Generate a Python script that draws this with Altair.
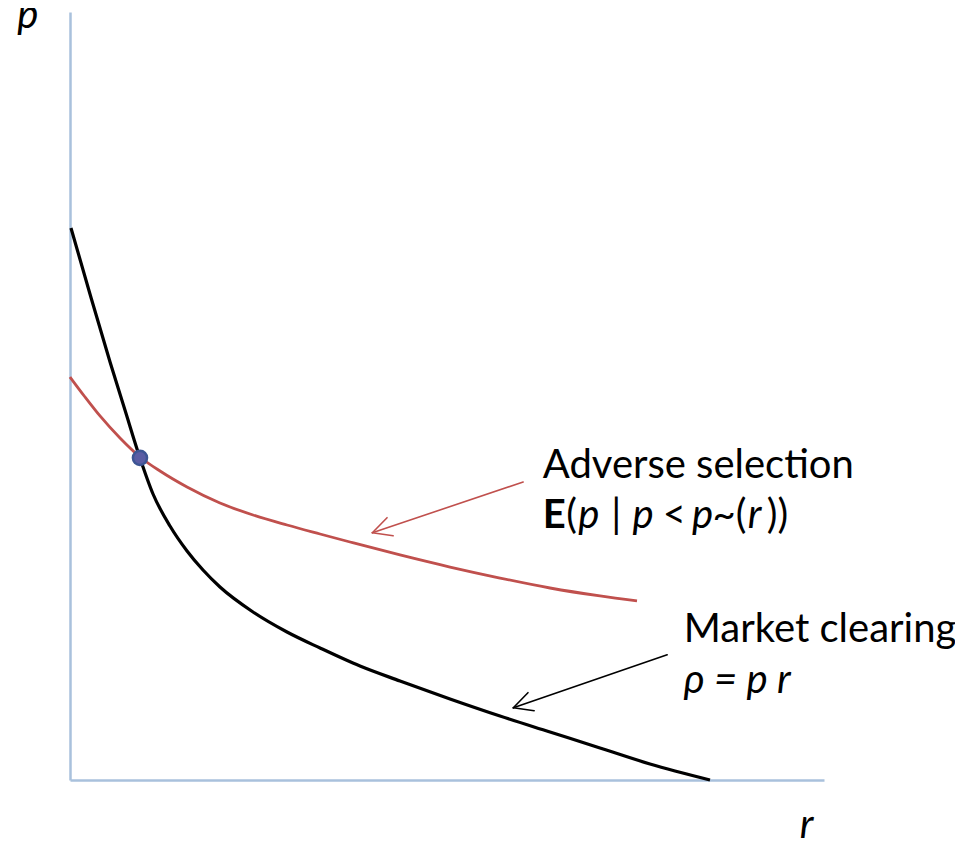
import math
import altair as alt
import pandas as pd

# ---- data (r, p in chart units) ----
black_r = [0.013, 0.265, 0.531, 0.729, 0.928, 1.101, 1.326, 1.552, 1.764, 1.989,
           2.427, 2.878, 3.316, 3.846, 4.377, 5.040, 5.703, 6.366, 7.029, 7.692, 8.488]
black_p = [7.188, 6.328, 5.443, 4.818, 4.193, 3.724, 3.307, 2.982, 2.734, 2.513,
           2.188, 1.927, 1.719, 1.484, 1.289, 1.055, 0.833, 0.625, 0.417, 0.208, 0.0]

red_r = [0.0, 0.199, 0.398, 0.663, 0.928, 1.194, 1.552, 1.989, 2.427, 2.878, 3.316,
         3.714, 4.377, 5.040, 5.703, 6.366, 7.029, 7.520]
red_p = [5.247, 4.987, 4.740, 4.453, 4.206, 4.023, 3.815, 3.607, 3.451, 3.320, 3.203,
         3.099, 2.930, 2.773, 2.630, 2.500, 2.396, 2.331]

eq_r = [0.928]
eq_p = [4.195]

# arrows: start (r, p) -> tip (r, p)
arrow_names = ["adverse", "market"]
arrow_r0 = [6.01, 7.92]
arrow_p0 = [3.88, 1.63]
arrow_r1 = [4.01, 5.88]
arrow_p1 = [3.22, 0.94]
arrow_colors = ["#c0504d", "#000000"]

# ---- layout constants ----
W, H = 754, 768
R_MAX, P_MAX = 10.0, 10.0
SX, SY = W / R_MAX, H / P_MAX
FONT = "Lato"
FS = 40

x_enc = alt.X("r:Q", scale=alt.Scale(domain=[0, R_MAX], nice=False, zero=False),
              axis=alt.Axis(labels=False, ticks=False, grid=False, title=None,
                            domainColor="#a9c1dc", domainWidth=2.5))
y_enc = alt.Y("p:Q", scale=alt.Scale(domain=[0, P_MAX], nice=False, zero=False),
              axis=alt.Axis(labels=False, ticks=False, grid=False, title=None,
                            domainColor="#a9c1dc", domainWidth=2.5))

black_df = pd.DataFrame({"r": black_r, "p": black_p})
red_df = pd.DataFrame({"r": red_r, "p": red_p})
eq_df = pd.DataFrame({"r": eq_r, "p": eq_p})

black = alt.Chart(black_df).mark_line(color="#000000", strokeWidth=3.2,
                                      interpolate="monotone").encode(x=x_enc, y=y_enc)
red = alt.Chart(red_df).mark_line(color="#c0504d", strokeWidth=2.8,
                                  interpolate="monotone").encode(x=x_enc, y=y_enc)
dot = alt.Chart(eq_df).mark_point(filled=True, size=200, color="#5a5ca4",
                                  stroke="#3d5594", strokeWidth=2.5,
                                  opacity=1).encode(x=x_enc, y=y_enc)

# arrow segments (shaft + two wings)
segs = []
for name, r0, p0, r1, p1, col in zip(arrow_names, arrow_r0, arrow_p0, arrow_r1,
                                     arrow_p1, arrow_colors):
    segs.append({"r": r0, "p": p0, "r2": r1, "p2": p1, "c": col})
    dx = (r0 - r1) * SX
    dy = -(p0 - p1) * SY
    n = math.hypot(dx, dy)
    ux, uy = dx / n, dy / n
    for ang in (27, -27):
        a = math.radians(ang)
        wx = (ux * math.cos(a) - uy * math.sin(a)) * 21
        wy = (ux * math.sin(a) + uy * math.cos(a)) * 21
        segs.append({"r": r1, "p": p1, "r2": r1 + wx / SX, "p2": p1 - wy / SY, "c": col})
seg_df = pd.DataFrame(segs)
arrows = alt.Chart(seg_df).mark_rule(strokeWidth=1.6, strokeCap="round").encode(
    x=x_enc, y=y_enc, x2="r2:Q", y2="p2:Q",
    color=alt.Color("c:N", scale=None))

# text annotations
normal_txt = pd.DataFrame({
    "r": [6.27, 8.14],
    "p": [3.93, 1.80],
    "t": ["Adverse selection", "Market clearing"],
})
eq_seg_text = ["E", "(", "p", "|", "p", "<", "p", "~", "(", "r", "))"]
eq_seg_r = [6.27, 6.58, 6.74, 7.18, 7.46, 7.86, 8.25, 8.52, 8.83, 8.99, 9.24]
eq_seg_style = ["bold", "normal", "italic", "normal", "italic", "normal", "italic",
                "normal", "normal", "italic", "normal"]
eq_line_p = 3.28

seg_tab = pd.DataFrame({"r": eq_seg_r, "p": [eq_line_p] * len(eq_seg_r),
                        "t": eq_seg_text, "s": eq_seg_style})

italic_txt = pd.concat([
    seg_tab[seg_tab.s == "italic"][["r", "p", "t"]],
    pd.DataFrame({"r": [8.14, -0.70, 9.68], "p": [1.13, 9.79, -0.76],
                  "t": ["ρ = p r", "p", "r"]}),
])
plain_seg = seg_tab[seg_tab.s == "normal"][["r", "p", "t"]]
bold_seg = seg_tab[seg_tab.s == "bold"][["r", "p", "t"]]

def text_layer(df, style="normal", weight="normal"):
    return alt.Chart(df).mark_text(font=FONT, fontSize=FS, fontStyle=style,
                                   fontWeight=weight, align="left",
                                   baseline="alphabetic", color="#000000").encode(
        x=x_enc, y=y_enc, text="t:N")

chart = alt.layer(
    red, black, arrows, dot,
    text_layer(normal_txt),
    text_layer(plain_seg),
    text_layer(bold_seg, weight="bold"),
    text_layer(italic_txt, style="italic"),
).properties(
    width=W, height=H,
    autosize=alt.AutoSizeParams(type="none"),
    padding={"left": 62, "top": 4, "right": 131, "bottom": 60},
).configure_view(stroke=None)

chart.save("out.html", embed_options={"renderer": "svg", "actions": False})
